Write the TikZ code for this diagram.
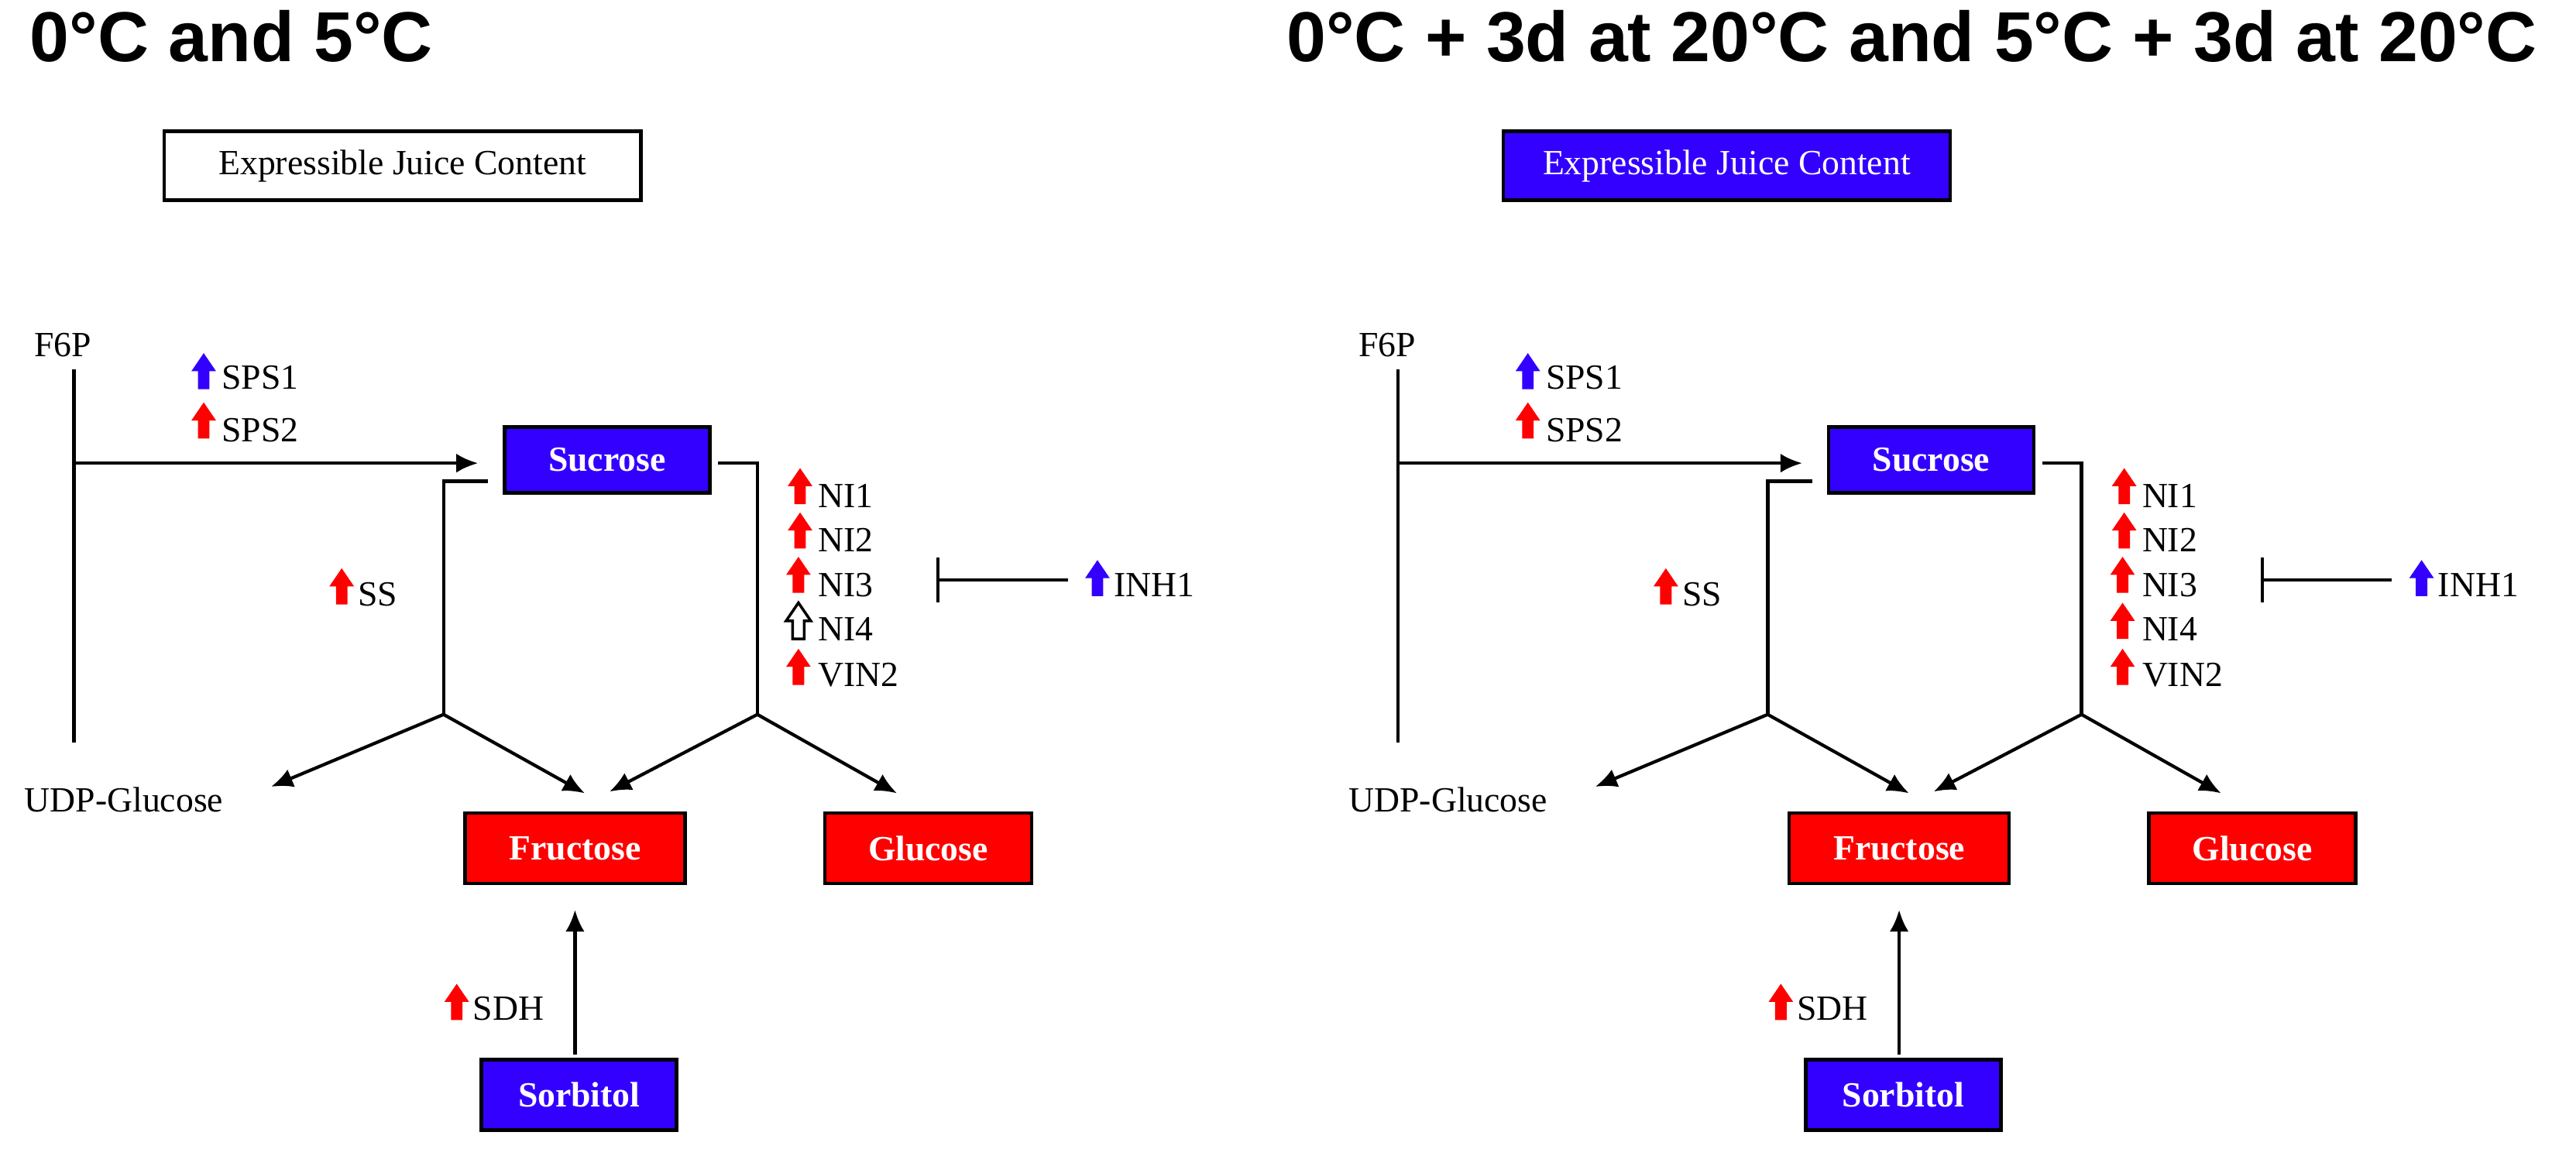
\documentclass[tikz,border=0pt]{standalone}
\usepackage{fontspec}
\setmainfont{Liberation Serif}
\newfontfamily\titlefont{Liberation Sans}
\usetikzlibrary{arrows.meta}
\definecolor{myblue}{RGB}{51,0,255}
\definecolor{myred}{RGB}{255,0,0}
\tikzset{
  x=0.02121cm, y=-0.02121cm,
  ttl/.style={font=\titlefont\bfseries\fontsize{26}{30}\selectfont, anchor=west, inner sep=0},
  lab/.style={font=\fontsize{13}{15}\selectfont, anchor=west, inner sep=1pt},
  box/.style={draw=black, line width=1.3pt, text=white, font=\bfseries\fontsize{13}{15}\selectfont, minimum height=0.85cm},
  ln/.style={line width=1.2pt},
  arr/.style={line width=1.2pt, -{Latex[length=8pt,width=7pt]}},
  uparr/.pic={\path[pic actions] (-3.5,11)--(3.5,11)--(3.5,0)--(7.5,0)--(0,-11)--(-7.5,0)--(-3.5,0)--cycle;},
}
\newcommand{\drawpanel}[3]{%
\begin{scope}[xshift={#1*0.02121cm}]
 \node[lab] (f6p#2) at (19,210) {F6P};
 \coordinate (ftop#2) at (45,225);
 \coordinate (fbot#2) at (45,452);
 \coordinate (fj#2) at (45,282);
 \draw[ln] (ftop#2) -- (fbot#2);
 \node[box, fill=myblue, minimum width=2.65cm] (suc#2) at (369.5,280) {Sucrose};
 \draw[arr, shorten >=9] (fj#2) -- (suc#2.west |- fj#2);
 \pic[fill=myblue] at (124,226) {uparr};
 \node[lab] (sps1#2) at (133,230) {SPS1};
 \pic[fill=myred] at (124,256) {uparr};
 \node[lab] (sps2#2) at (133,262) {SPS2};
 \coordinate (ssa#2) at (297,293);
 \coordinate (ssb#2) at (270,293);
 \coordinate (b1#2) at (270,435);
 \draw[ln] (ssa#2) -- (ssb#2) -- (b1#2);
 \coordinate (ra#2) at (437,282);
 \coordinate (rb#2) at (461,282);
 \coordinate (b2#2) at (461,435);
 \draw[ln] (ra#2) -- (rb#2) -- (b2#2);
 \node[lab] (udp#2) at (13,487) {UDP-Glucose};
 \node[box, fill=myred, minimum width=2.84cm, minimum height=0.91cm] (fru#2) at (350,516.5) {Fructose};
 \node[box, fill=myred, minimum width=2.67cm, minimum height=0.91cm] (glu#2) at (565,516.5) {Glucose};
 \node[box, fill=myblue, minimum width=2.52cm, minimum height=0.91cm] (sor#2) at (352.5,666.5) {Sorbitol};
 \coordinate (udpin#2) at (165,479);
 \coordinate (fin1#2) at (356,483);
 \coordinate (fin2#2) at (371,482);
 \coordinate (gin#2) at (546,483);
 \draw[arr] (b1#2) -- (udpin#2);
 \draw[arr] (b1#2) -- (fin1#2);
 \draw[arr] (b2#2) -- (fin2#2);
 \draw[arr] (b2#2) -- (gin#2);
 \draw[arr, shorten <=1, shorten >=9] (sor#2.north -| 350,0) -- (fru#2.south -| 350,0);
 \pic[fill=myred] at (208,357) {uparr};
 \node[lab] (ss#2) at (216,362) {SS};
 \pic[fill=myred] at (278,610) {uparr};
 \node[lab] (sdh#2) at (286,614) {SDH};
 \pic[fill=myred] at (487,296) {uparr};
 \node[lab] (ni1#2) at (496,302) {NI1};
 \pic[fill=myred] at (487,323) {uparr};
 \node[lab] (ni2#2) at (496,329) {NI2};
 \pic[fill=myred] at (486,350) {uparr};
 \node[lab] (ni3#2) at (496,356) {NI3};
 \pic[#3] at (486,378) {uparr};
 \node[lab] (ni4#2) at (496,383) {NI4};
 \pic[fill=myred] at (486,406) {uparr};
 \node[lab] (vin#2) at (496,411) {VIN2};
 \pic[fill=myblue] at (668,352) {uparr};
 \node[lab] (inh#2) at (676,356) {INH1};
 \coordinate (inhs#2) at (650,353);
 \coordinate (inhe#2) at (570,353);
 \draw[ln, -{Bar[width=0.58cm]}] (inhs#2) -- (inhe#2);
\end{scope}}
\begin{document}
\begin{tikzpicture}
\useasboundingbox (0,0) rectangle (1568,708);
\node[ttl] (t1) at (18,22) {0°C and 5°C};
\node[ttl] (t2) at (783,22) {0°C + 3d at 20°C and 5°C + 3d at 20°C};
\node[draw=black, line width=1.3pt, font=\fontsize{13}{15}\selectfont, minimum width=6.15cm, minimum height=0.89cm] (juice1) at (245,101) {Expressible Juice Content};
\node[draw=black, line width=1.3pt, fill=myblue, text=white, font=\fontsize{13}{15}\selectfont, minimum width=5.77cm, minimum height=0.89cm] (juice2) at (1051,101) {Expressible Juice Content};
\drawpanel{0}{a}{draw=black, fill=white, line width=1pt}
\drawpanel{806}{b}{fill=myred}
\end{tikzpicture}
\end{document}
